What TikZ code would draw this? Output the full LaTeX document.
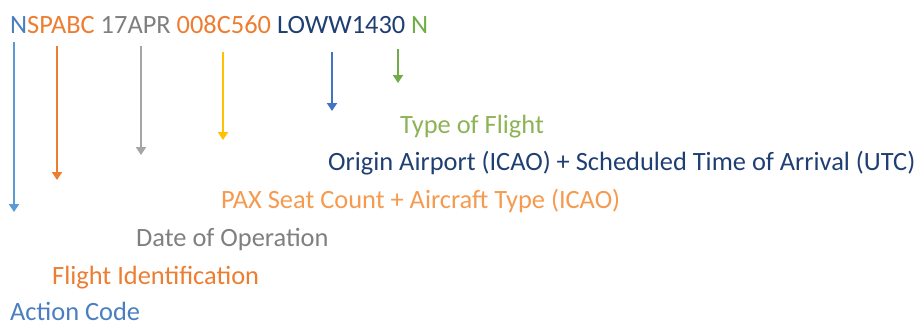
\documentclass[tikz,border=0pt]{standalone}
\usepackage{fontspec}
\setmainfont{Carlito}
\usepackage{xcolor}
\usetikzlibrary{arrows.meta}
\definecolor{acblue}{HTML}{4A7EC0}
\definecolor{acarrow}{HTML}{5B9BD5}
\definecolor{fiorange}{HTML}{ED7D31}
\definecolor{dogray}{HTML}{7F7F7F}
\definecolor{doarrow}{HTML}{A5A5A5}
\definecolor{paxorange}{HTML}{F59A4E}
\definecolor{paxarrow}{HTML}{FFC000}
\definecolor{origblue}{HTML}{1F3F73}
\definecolor{origarrow}{HTML}{4472C4}
\definecolor{tofgreen}{HTML}{8DB356}
\definecolor{tofarrow}{HTML}{70AD47}

\begin{document}
\begin{tikzpicture}[x=1pt,y=-1pt,
  lbl/.style = {anchor=base west, inner sep=0pt, font=\fontsize{26.4}{30}\selectfont},
  ptr/.style = {line width=2pt, -{Triangle[width=10pt,length=8pt]}}]
\useasboundingbox (0,0) rectangle (922,325);
\node[lbl] (code) at (10,33) {\textcolor{acblue}{N}\textcolor{fiorange}{SPABC} \textcolor{dogray}{17APR} \textcolor{fiorange}{008C560} \textcolor{origblue}{LOWW1430} \textcolor{tofarrow}{N}};
\node[lbl, text=tofgreen] (tof) at (400,133) {Type of Flight};
\node[lbl, text=origblue] (orig) at (328,170) {Origin Airport (ICAO) + Scheduled Time of Arrival (UTC)};
\node[lbl, text=paxorange] (pax) at (221,208) {PAX Seat Count + Aircraft Type (ICAO)};
\node[lbl, text=dogray] (dop) at (136,246) {Date of Operation};
\node[lbl, text=fiorange] (fid) at (52,284) {Flight Identification};
\node[lbl, text=acblue] (act) at (10,320) {Action Code};
\coordinate (ac1) at (14,42);   \coordinate (ac2) at (14,212);
\coordinate (fi1) at (57,46);   \coordinate (fi2) at (57,180);
\coordinate (do1) at (141,46);  \coordinate (do2) at (141,155);
\coordinate (px1) at (223,52);  \coordinate (px2) at (223,140);
\coordinate (or1) at (332,52);  \coordinate (or2) at (332,111);
\coordinate (tf1) at (398,49);  \coordinate (tf2) at (398,83);
\draw[ptr, acarrow] (ac1) -- (ac2);
\draw[ptr, fiorange] (fi1) -- (fi2);
\draw[ptr, doarrow] (do1) -- (do2);
\draw[ptr, paxarrow] (px1) -- (px2);
\draw[ptr, origarrow] (or1) -- (or2);
\draw[ptr, tofarrow] (tf1) -- (tf2);
\end{tikzpicture}
\end{document}
